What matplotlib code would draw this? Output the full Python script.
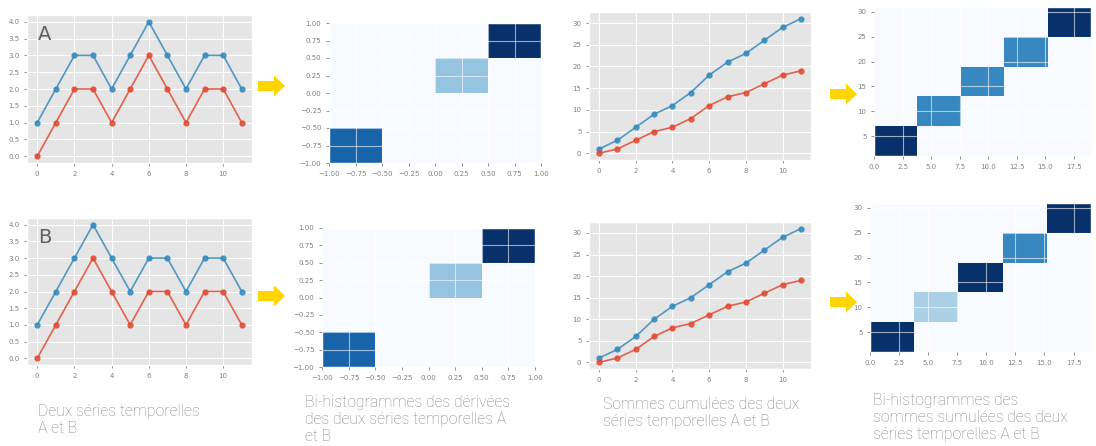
import numpy as np
import matplotlib
matplotlib.use("Agg")
import matplotlib.pyplot as plt
from matplotlib.patches import FancyArrow

plt.style.use("ggplot")

# Two pairs of time series (blue = upper curve, red = lower curve)
t = list(range(12))
a_blue = [1, 2, 3, 3, 2, 3, 4, 3, 2, 3, 3, 2]
a_red = [0, 1, 2, 2, 1, 2, 3, 2, 1, 2, 2, 1]
b_blue = [1, 2, 3, 4, 3, 2, 3, 3, 2, 3, 3, 2]
b_red = [0, 1, 2, 3, 2, 1, 2, 2, 1, 2, 2, 1]

series_labels = ["A", "B"]
captions = [
    "Deux séries temporelles\nA et B",
    "Bi-histogrammes des dérivées\ndes deux séries temporelles A\net B",
    "Sommes cumulées des deux\nséries temporelles A et B",
    "Bi-histogrammes des\nsommes sumulées des deux\nséries temporelles A et B",
]

BLUE = "#348ABD"
RED = "#E24A33"
TICK_GREY = "#808080"

W, H = 1096, 446
fig = plt.figure(figsize=(W / 100, H / 100), dpi=100)
fig.patch.set_facecolor("white")


def px_axes(l, t_, r, b):
    return fig.add_axes([l / W, 1 - b / H, (r - l) / W, (b - t_) / H])


def style_ticks(ax):
    ax.tick_params(labelsize=5, colors=TICK_GREY, length=2, width=0.6)


rows = [
    dict(blue=a_blue, red=a_red, ts=(27, 15, 252, 163), dh=(329, 23, 541, 163),
         cs=(589, 12, 811, 160), ch=(874, 7, 1091, 156)),
    dict(blue=b_blue, red=b_red, ts=(27, 218, 252, 365), dh=(322, 228, 535, 367),
         cs=(589, 222, 811, 369), ch=(870, 203, 1091, 352)),
]

for lab, row in zip(series_labels, rows):
    blue = np.array(row["blue"])
    red = np.array(row["red"])

    # raw series
    ax = px_axes(*row["ts"])
    ax.plot(t, blue, "-o", color=BLUE, lw=1.2, ms=3.5, alpha=0.85)
    ax.plot(t, red, "-o", color=RED, lw=1.2, ms=3.5, alpha=0.85)
    ax.set_yticks(np.arange(0, 4.01, 0.5))
    ax.set_xticks(range(0, 11, 2))
    style_ticks(ax)
    ax.text(0.05, 0.93, lab, transform=ax.transAxes, fontsize=14,
            color="#606060", va="top", ha="left")

    # bi-histogram of the first differences
    ax = px_axes(*row["dh"])
    ax.hist2d(np.diff(red), np.diff(blue), bins=4, cmap="Blues")
    ax.set_axisbelow(False)
    ax.grid(True, color="white", lw=0.8, alpha=0.6)
    ax.set_xticks(np.arange(-1, 1.01, 0.25))
    ax.set_yticks(np.arange(-1, 1.01, 0.25))
    style_ticks(ax)

    # cumulative sums
    ax = px_axes(*row["cs"])
    ax.plot(t, np.cumsum(blue), "-o", color=BLUE, lw=1.2, ms=3.5, alpha=0.85)
    ax.plot(t, np.cumsum(red), "-o", color=RED, lw=1.2, ms=3.5, alpha=0.85)
    ax.set_xticks(range(0, 11, 2))
    ax.set_yticks(range(0, 31, 5))
    style_ticks(ax)

    # bi-histogram of the cumulative sums
    ax = px_axes(*row["ch"])
    ax.hist2d(np.cumsum(red), np.cumsum(blue), bins=5, cmap="Blues")
    ax.set_axisbelow(False)
    ax.grid(True, color="white", lw=0.8, alpha=0.6)
    ax.set_xticks(np.arange(0, 17.6, 2.5))
    ax.set_yticks(range(5, 31, 5))
    style_ticks(ax)

# yellow arrows between the columns (positions in pixels from the top-left)
for x0, yc in [(258, 86), (258, 296), (830, 94), (830, 302)]:
    arr = FancyArrow(x0 / 100, (H - yc) / 100, 0.27, 0,
                     width=0.10, head_width=0.21, head_length=0.11,
                     length_includes_head=True, color="#FFD500", lw=0,
                     transform=fig.dpi_scale_trans)
    fig.patches.append(arr)

# captions under each column
cap_fam = ["Roboto", "DejaVu Sans"]
for (x, y), txt in zip([(38, 404), (305, 395), (603, 397), (873, 393)], captions):
    fig.text(x / W, 1 - y / H, txt, fontsize=11.3, color="#858585",
             va="top", ha="left", family=cap_fam, fontweight="light",
             linespacing=1.15)

fig.savefig("out.png", dpi=100, facecolor="white")
